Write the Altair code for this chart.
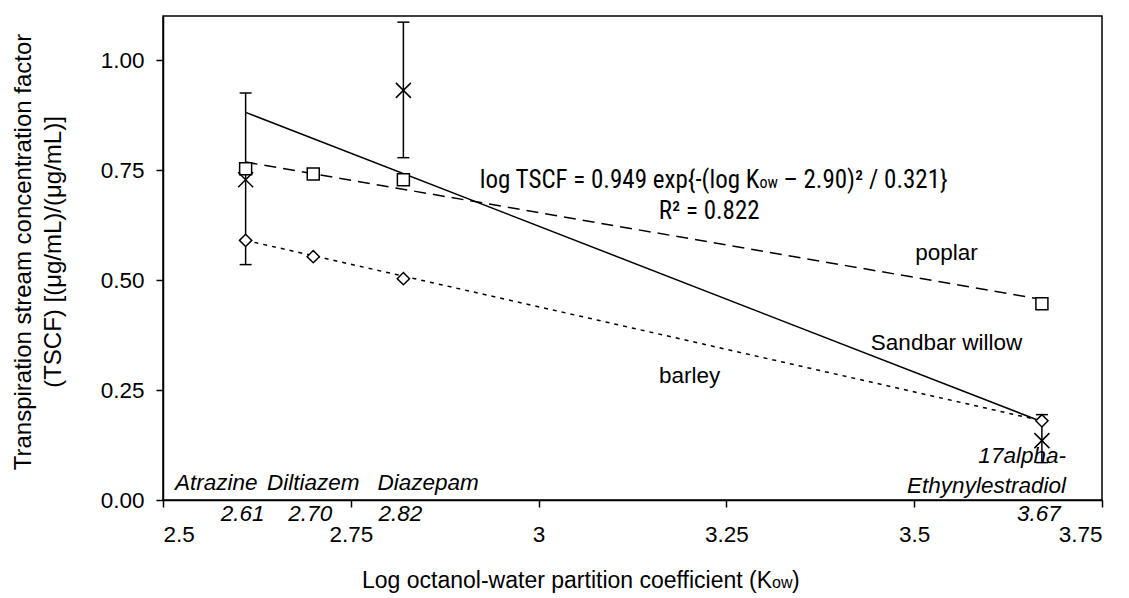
import altair as alt
import pandas as pd

# ---- data ----
compounds = ["Atrazine", "Diltiazem", "Diazepam", "17alpha-Ethynylestradiol"]
log_kow = [2.61, 2.70, 2.82, 3.67]
kow_labels = ["2.61", "2.70", "2.82", "3.67"]
poplar_tscf = [0.753, 0.741, 0.728, 0.446]
barley_tscf = [0.590, 0.553, 0.503, 0.180]
willow_kow = [2.61, 2.82, 3.67]
willow_tscf = [0.728, 0.931, 0.135]
willow_low = [0.535, 0.778, 0.085]
willow_high = [0.925, 1.086, 0.194]
fit_kow = [2.61, 3.67]
willow_fit = [0.881, 0.178]
poplar_fit = [0.768, 0.456]
barley_fit = [0.590, 0.180]
x_ticks = [2.5, 2.75, 3.0, 3.25, 3.5, 3.75]
y_ticks = [0.0, 0.25, 0.5, 0.75, 1.0]

FONT = "Liberation Sans, Arial, sans-serif"
NARROW = "Liberation Sans Narrow, Arial Narrow, Roboto Condensed, DejaVu Sans Condensed, sans-serif"
FS = 22.5

xs = alt.Scale(domain=[2.5, 3.75], nice=False, zero=False)
ys = alt.Scale(domain=[0, 1.1], nice=False, zero=False)
xaxis = alt.Axis(values=x_ticks, format="~g", title=None, labelPadding=16)
yaxis = alt.Axis(values=y_ticks, format=".2f", title=None, labelPadding=12)


def X(f):
    return alt.X(f"{f}:Q", scale=xs, axis=xaxis)


def Y(f):
    return alt.Y(f"{f}:Q", scale=ys, axis=yaxis)


pts = pd.DataFrame({"compound": compounds, "kow": log_kow, "kl": kow_labels,
                    "poplar": poplar_tscf, "barley": barley_tscf})
wil = pd.DataFrame({"kow": willow_kow, "tscf": willow_tscf,
                    "lo": willow_low, "hi": willow_high})
fits = pd.DataFrame({"kow": fit_kow, "willow": willow_fit,
                     "poplar": poplar_fit, "barley": barley_fit})

willow_line = alt.Chart(fits).mark_line(color="black", strokeWidth=1.5).encode(
    x=X("kow"), y=Y("willow"))
poplar_line = alt.Chart(fits).mark_line(color="black", strokeWidth=1.5,
                                        strokeDash=[12, 7]).encode(
    x=X("kow"), y=Y("poplar"))
barley_line = alt.Chart(fits).mark_line(color="black", strokeWidth=1.5,
                                        strokeDash=[4, 5]).encode(
    x=X("kow"), y=Y("barley"))

err = alt.Chart(wil).mark_rule(color="black", strokeWidth=1.5).encode(
    x=X("kow"), y=Y("lo"), y2="hi:Q")
cap_lo = alt.Chart(wil).mark_tick(color="black", orient="horizontal", size=12,
                                  thickness=1.5, opacity=1).encode(
    x=X("kow"), y=Y("lo"))
cap_hi = alt.Chart(wil).mark_tick(color="black", orient="horizontal", size=12,
                                  thickness=1.5, opacity=1).encode(
    x=X("kow"), y=Y("hi"))

squares = alt.Chart(pts).mark_point(shape="square", size=144, filled=True,
                                    fill="white", stroke="black",
                                    strokeWidth=1.5, opacity=1).encode(
    x=X("kow"), y=Y("poplar"))
diamonds = alt.Chart(pts).mark_point(shape="diamond", size=150, filled=True,
                                     fill="white", stroke="black",
                                     strokeWidth=1.5, opacity=1).encode(
    x=X("kow"), y=Y("barley"))
crosses = alt.Chart(wil).mark_point(shape="M-1,-1L1,1M-1,1L1,-1", size=225,
                                    filled=False, stroke="black",
                                    strokeWidth=1.5, opacity=1).encode(
    x=X("kow"), y=Y("tscf"))


def txt(s, x, y, size=FS, font=FONT, align="center", style="normal", dx=0,
        angle=0, baseline="alphabetic"):
    kw = dict(text=s, font=font, fontSize=size, align=align, baseline=baseline,
              color="black", fontStyle=style, dx=dx)
    if angle:
        kw["angle"] = angle
    return alt.Chart(pd.DataFrame({"a": [0]})).mark_text(**kw).encode(x=x, y=y)


D = alt.datum
V = alt.value

texts = [
    # compound names inside plot
    txt("Atrazine", D(2.571), D(0.0216), style="italic"),
    txt("Diltiazem", D(2.70), D(0.0216), style="italic"),
    txt("Diazepam", D(2.853), D(0.0216), style="italic"),
    txt("17alpha-", D(3.702), D(0.083), style="italic", align="right"),
    txt("Ethynylestradiol", D(3.702), D(0.017), style="italic", align="right"),
    # series labels
    txt("poplar", D(3.543), D(0.545)),
    txt("Sandbar willow", D(3.543), D(0.342)),
    txt("barley", D(3.201), D(0.265)),
    # equation
    txt("log TSCF = 0.949 exp{-(log K", D(3.294), D(0.710), size=25,
        font=NARROW, align="right"),
    txt("ow", D(3.294), D(0.710), size=16, font=NARROW, align="left"),
    txt("\u2013 2.90)\u00b2 / 0.321}", D(3.294), D(0.710), size=25,
        font=NARROW, align="left", dx=24),
    txt("R\u00b2 = 0.822", D(3.227), D(0.638), size=25, font=NARROW),
    # y title
    txt("Transpiration stream concentration factor", V(-139), V(236),
        size=24, angle=270, baseline="middle"),
    txt("(TSCF) [(\u03bcg/mL)/(\u03bcg/mL)]", V(-109), V(236), size=24,
        angle=270, baseline="middle"),
    # x title
    txt("Log octanol-water partition coefficient (K", V(609), V(572),
        size=23, align="right"),
    txt("ow", V(609), V(572), size=16, align="left"),
    txt(")", V(629), V(572), size=23, align="left"),
]

kow_text = alt.Chart(pts).mark_text(font=FONT, fontSize=FS, fontStyle="italic",
                                    baseline="alphabetic", color="black",
                                    dx=-3).encode(
    x=X("kow"), y=alt.datum(-0.0466), text="kl:N")

chart = alt.layer(
    willow_line, poplar_line, barley_line, err, cap_lo, cap_hi,
    squares, diamonds, crosses, kow_text, *texts
).properties(
    width=939, height=484, autosize="none",
    padding={"left": 163, "top": 16, "right": 27, "bottom": 98},
    background="white",
).configure_view(
    stroke="black", strokeWidth=1.5
).configure_axis(
    grid=False, domainColor="black", domainWidth=1.5, tickColor="black",
    tickWidth=1.5, tickSize=7, labelColor="black", labelFont=FONT,
    labelFontSize=FS,
)

chart.save("out.html", embed_options={"renderer": "svg", "actions": False})
